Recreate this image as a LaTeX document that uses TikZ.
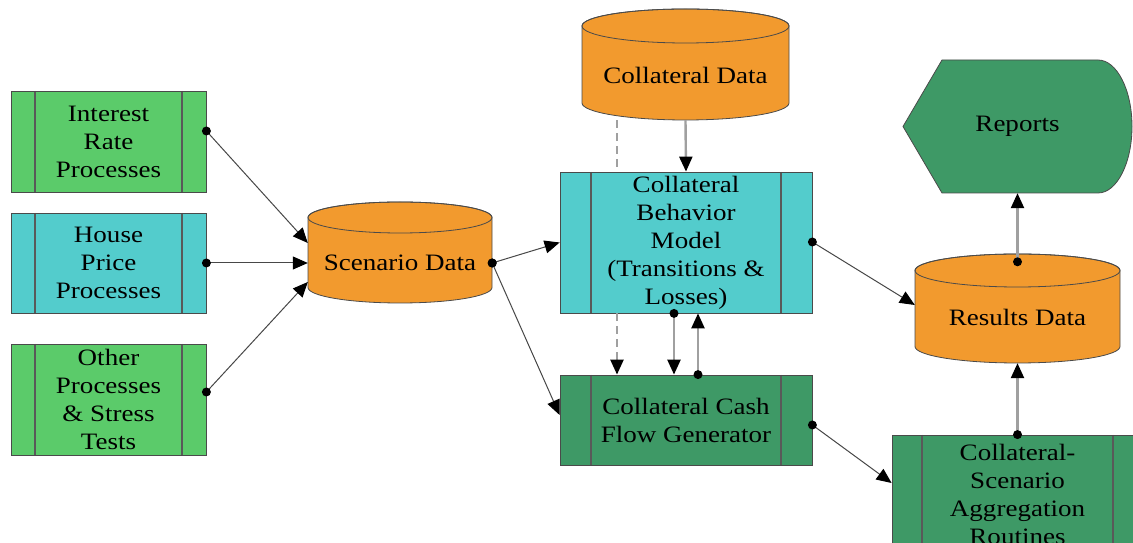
\documentclass[tikz,border=0pt]{standalone}
\usepackage{fontspec}
\setmainfont[FakeStretch=1.15]{Liberation Serif}
\usetikzlibrary{arrows.meta}
\definecolor{lgreen}{HTML}{5BCB6A}
\definecolor{cyanf}{HTML}{53CCCC}
\definecolor{orangef}{HTML}{F29A2E}
\definecolor{dgreen}{HTML}{3E9966}
\definecolor{edgec}{HTML}{4A4A4A}
\definecolor{vline}{HTML}{A0A0A0}
\newcommand\dbcyl[8]{%
  \pgfmathsetmacro\cxl{#2-#3}\pgfmathsetmacro\cxr{#2+#3}%
  \path[fill=orangef, draw=edgec, line width=0.8pt] (\cxl,#4) -- (\cxl,#5)
    arc[start angle=180,end angle=360,x radius=#3,y radius=#6] -- (\cxr,#4)
    arc[start angle=0,end angle=180,x radius=#3,y radius=#6] -- cycle;
  \draw[edgec, line width=0.8pt] (#2,#4) ellipse[x radius=#3, y radius=#6];
  \node[inner sep=0pt, minimum width={2*#3}, minimum height={#4-#5+2*#6}] (#1) at (#2,{(#4+#5)/2}) {};
  \node[txt, minimum width={2*#3}] (#1-t) at (#2,#7) {#8};
}
\newcommand\dlink[3][]{\draw[conn,#1] #2 -- #3; \fill #2 circle[radius=4.5pt];}
\begin{document}
\begin{tikzpicture}[x=1pt,y=1pt,
  txt/.style={font=\fontsize{23.5}{28}\selectfont, text=black, align=center, inner sep=0pt},
  proc/.style={txt, draw=edgec, line width=0.8pt,
    path picture={\draw[line width=1.2pt, black!65]
      ([xshift=#1]path picture bounding box.north west) -- ([xshift=#1]path picture bounding box.south west)
      ([xshift=-#1]path picture bounding box.north east) -- ([xshift=-#1]path picture bounding box.south east);}},
  conn/.style={draw=black!72, line width=1pt, -{Triangle[length=15pt,width=13pt,color=black]}},
  vconn/.style={draw=vline, line width=2.4pt, -{Triangle[length=15pt,width=13pt,color=black]}},
  dconn/.style={draw=vline, line width=2.4pt, dash pattern=on 8pt off 5pt}
]
\useasboundingbox (0,0) rectangle (1133,543);
\clip (0,0) rectangle (1133,543);

% left process boxes
\node[proc=24pt, fill=lgreen, minimum width=195pt, minimum height=101pt] (ir) at (108.5,401.5) {Interest\\Rate\\Processes};
\node[proc=24pt, fill=cyanf, minimum width=195pt, minimum height=100pt] (hp) at (108.5,280) {House\\Price\\Processes};
\node[proc=24pt, fill=lgreen, minimum width=195pt, minimum height=111pt] (op) at (108.5,143.5) {Other\\Processes\\\& Stress\\Tests};

% cylinders
\dbcyl{scen}{400}{92}{325.5}{255.5}{15.5}{280}{Scenario Data}
\dbcyl{colld}{685.5}{103.5}{517}{440}{17}{468}{Collateral Data}
\dbcyl{res}{1017.5}{102.5}{272.5}{196.5}{16.5}{226}{Results Data}

% central process boxes
\node[proc=31pt, fill=cyanf, minimum width=252pt, minimum height=141pt] (cbm) at (686,300.5) {Collateral\\Behavior\\Model\\(Transitions \&\\Losses)};
\node[proc=31pt, fill=dgreen, minimum width=252pt, minimum height=90pt] (cfg) at (686,123) {Collateral Cash\\Flow Generator};
\node[proc=30pt, fill=dgreen, minimum width=251pt, minimum height=118pt] (agg) at (1017.5,49) {Collateral-\\Scenario\\Aggregation\\Routines};

% reports display shape
\path[fill=dgreen, draw=edgec, line width=0.8pt] (903,416.5) -- (942,483) -- (1098,483)
  arc[start angle=90,end angle=-90,x radius=34,y radius=66.5] -- (942,350) -- cycle;
\node[txt, minimum width=229pt, minimum height=133pt] (rep) at (1017.5,416.5) {Reports};

% connectors
\dlink{([yshift=10.5pt]ir.east)}{([yshift=20pt]scen-t.west)}
\dlink{(hp.east)}{(scen-t.west)}
\dlink{([yshift=7.5pt]op.east)}{([yshift=-19pt]scen-t.west)}
\dlink{(scen-t.east)}{(cbm.west)}
\dlink{(scen-t.east)}{([yshift=5pt]cfg.west)}
\draw[vconn] (colld.south) -- (cbm.north);
\draw[dconn] ([xshift=-68.5pt]colld.south) -- ([xshift=-69pt]cbm.north);
\draw[dconn, -{Triangle[length=15pt,width=13pt,color=black]}] ([xshift=-69pt]cbm.south) -- ([xshift=-69pt]cfg.north);
\dlink[vconn]{([xshift=-12pt]cbm.south)}{([xshift=-12pt]cfg.north)}
\dlink[vconn]{([xshift=12pt]cfg.north)}{([xshift=12pt]cbm.south)}
\dlink{([yshift=0.5pt]cbm.east)}{([yshift=12pt]res-t.west)}
\dlink{([yshift=-5pt]cfg.east)}{([yshift=11pt]agg.west)}
\dlink[vconn]{([yshift=-8pt]res.north)}{(rep.south)}
\dlink[vconn]{(agg.north)}{(res.south)}
\end{tikzpicture}
\end{document}
